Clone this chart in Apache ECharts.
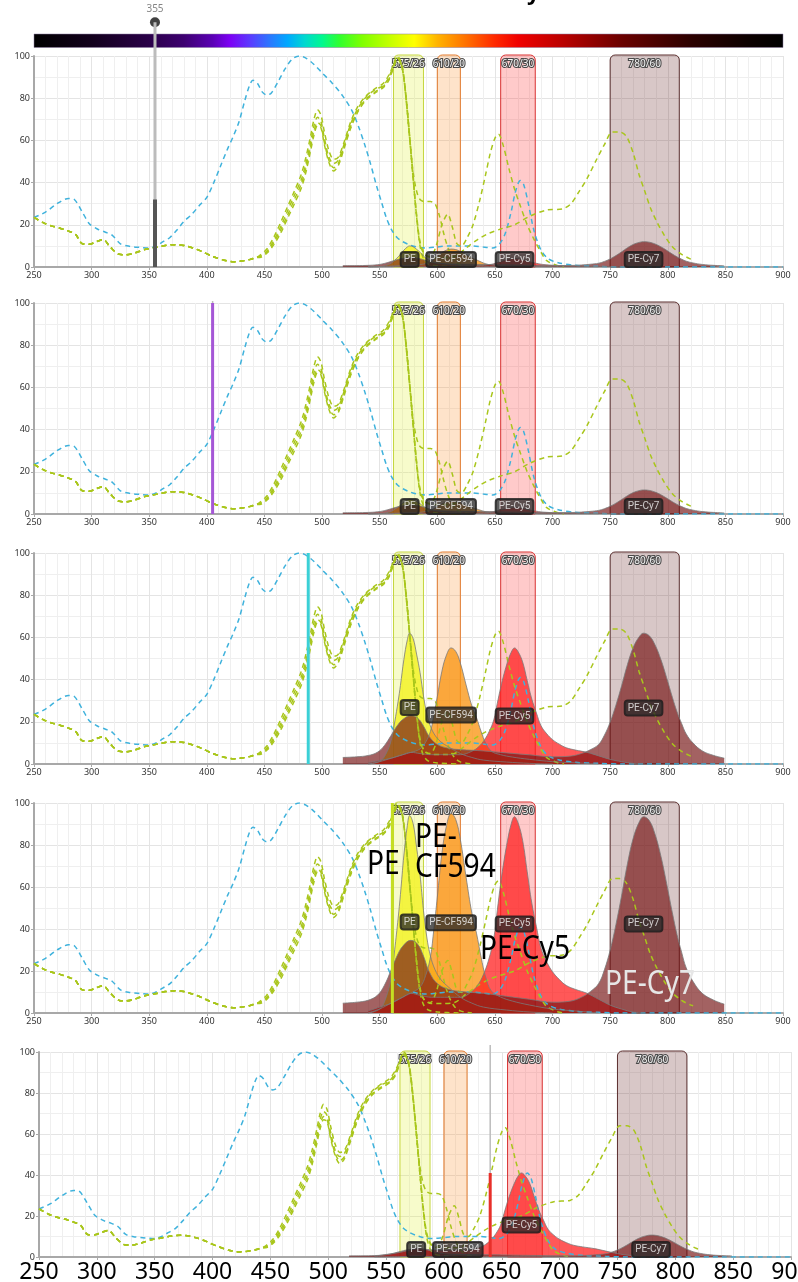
<!DOCTYPE html>
<html lang="en">
<head>
<meta charset="UTF-8">
<title>Spectra</title>
<style>html,body{margin:0;padding:0;background:#fff}</style>
</head>
<body>
<div id="main" style="width:798px;height:1282px"></div>
<script src="https://cdn.jsdelivr.net/npm/echarts@6/dist/echarts.min.js"></script>
<script>
// ---- data ----
var dyeNames = ['PE', 'PE-CF594', 'PE-Cy5', 'PE-Cy7'];
var labelNm = [576, 612, 667, 779];

var bandLo = [562, 600, 655, 750];
var bandHi = [588, 620, 685, 810];
var bandNames = ['575/26', '610/20', '670/30', '780/60'];

var laserNm = [355, 405, 488, 561, 640];
var laserPower = [32, 100, 100, 100, 41];
var sliderTop = [116, 101, 100, 100, 103.4];

// peak height of each emission, one entry per panel
var peakPE = [10, 7, 62, 94, 0.5];
var peakCF594 = [8.5, 6, 55, 95, 1];
var peakCy5 = [4, 3, 55, 93.5, 41];
var peakCy7 = [12, 11.4, 62, 93.5, 10.7];

// height of the name boxes, one entry per panel
var labelPE = [3.6, 3.6, 26.8, 43.3, 3.6];
var labelCF594 = [3.6, 3.6, 23.2, 43, 3.6];
var labelCy5 = [3.6, 3.6, 22.7, 42.4, 15.6];
var labelCy7 = [3.6, 3.6, 26.5, 42.4, 3.6];

var blueEx = [[250,23.5],[260,26],[270,30],[280,32.5],[285,32],[292,26],[298,20.5],[305,18],[312,16.5],[318,15],[325,11],[333,9.8],[342,9.3],[350,9],[356,10],[362,12],[368,14],[374,17.5],[380,21.5],[387,25],[394,29.5],[400,33],[406,40],[412,48],[418,56],[423,62],[428,69],[433,79],[437,86],[440,88.5],[444,87],[448,83],[452,81.5],[456,82.5],[462,88],[468,94],[474,98.5],[480,100],[486,99],[493,96],[500,92],[509,87],[518,81],[526,74],[532,66],[537,58],[542,49],[547,39],[552,30],[556,23],[560,18],[565,14],[570,12],[576,10.5],[582,9.5],[590,9],[600,9.5],[610,10],[620,10],[630,10],[640,9.5],[648,9],[654,11],[659,16],[664,26],[668,36],[672,41],[675,39],[679,30],[684,17],[690,8],[696,4],[705,2],[720,0.8],[740,0.3],[760,0],[900,0]];

var exCommon = [[250,23.5],[258,21],[265,19.5],[272,18.5],[280,17],[286,15.5],[292,11],[298,10.8],[304,12],[310,13],[316,9.6],[324,6],[330,5.8],[336,6.4],[342,7.5],[348,8.5],[356,9.3],[364,10.2],[372,10.6],[380,10.2],[388,9],[395,7.5],[405,5],[415,3.2],[423,2.5],[430,2.8],[437,3.5],[443,4.5]];

var exPE = [[446,5.5],[452,8.5],[458,14],[464,21],[470,28.5],[476,36],[482,44],[486,52],[490,62],[493,70],[496,74.5],[499,72],[502,64],[506,55],[510,51],[514,52],[519,59],[525,69],[531,76],[538,81],[546,84.5],[553,87],[558,91],[562,96],[565,100],[567,99],[570,94],[573,80],[576,62],[579,42],[582,24],[585,10],[588,4],[592,1.5],[600,0.5],[620,0]];
var exCF594 = [[446,5],[452,7.5],[458,12.5],[464,19],[470,26.5],[476,34],[482,41.5],[486,49],[490,59],[493,67],[496,71],[499,69],[502,61],[506,52],[510,49],[514,50.5],[519,58],[525,68],[531,75],[538,80.5],[546,84],[553,86],[558,90],[562,95.5],[565,99],[567,98],[570,93],[573,79],[576,61],[579,45],[582,36],[585,32],[589,31],[594,31],[598,30],[602,24],[606,15],[610,8],[615,3],[620,1],[630,0]];
var exCy5 = [[446,4.8],[452,7],[458,11.5],[464,17.5],[470,24.5],[476,32],[482,39.5],[486,47],[490,57],[493,64.5],[496,68.5],[499,67],[502,59],[506,50.5],[510,47],[514,49],[519,57],[525,67],[531,74],[538,79.5],[546,83],[553,85.5],[558,89],[562,95],[565,98.5],[567,98],[570,93],[573,80],[576,62],[579,43],[582,25],[585,12],[589,6],[594,5],[599,10],[604,20],[609,25],[613,19],[617,11],[621,10],[626,14],[631,20],[637,32],[642,44],[646,54],[650,61],[653,63],[657,58],[662,47],[667,37],[672,29],[678,20],[684,13],[690,7],[695,3],[705,0.5],[710,0]];
var exCy7 = [[446,4.5],[452,6.5],[458,10.5],[464,16],[470,23],[476,30],[482,37.5],[486,45],[490,55],[493,62.5],[496,67],[499,66],[502,58],[506,49.5],[510,45.5],[514,48],[519,56],[525,66],[531,73.5],[538,79],[546,82.5],[553,85],[558,88.5],[562,94.5],[565,98],[567,98],[570,93],[573,79],[576,61],[579,42],[582,24],[585,11],[589,6],[595,4.5],[605,4.5],[615,5],[625,9],[635,13],[645,16],[655,18],[667,20],[680,24],[695,27],[709,27.6],[716,30],[723,35.7],[730,42],[738,50.7],[745,58],[752,64],[758,64],[764,62],[770,54],[775,44],[780,36],[785,28],[790,22],[797,15],[804,9.6],[812,6],[819,4],[822,3.5]];

// emission shapes, peak = 100
var emPE = [[540,0],[550,2],[555,7],[560,18],[563,32],[566,48],[568,60],[571,80],[574,95],[576,100],[579,96],[582,84],[585,70],[588,52],[591,38],[594,29],[598,22],[603,17],[610,13],[620,8],[630,5],[640,3],[660,1.5],[680,0.5],[700,0]];
var emCF594 = [[540,0],[550,2],[560,5],[570,8],[577,10],[585,13],[590,19],[594,28],[597,42],[600,58],[604,80],[608,94],[612,100],[616,97],[620,87],[625,68],[630,50],[634,40],[638,28],[642,18],[647,11],[655,8],[665,6],[680,4],[700,2],[720,1],[740,0]];
var emCy5 = [[540,1],[550,3],[560,5],[570,8],[577,10],[585,9],[595,8],[610,8],[620,8],[630,11],[636,15],[641,21],[645,28],[649,38],[652,52],[655,66],[658,78],[661,88],[664,96],[667,100],[670,97],[674,88],[678,72],[682,56],[686,44],[690,33],[695,26],[700,21],[706,17],[712,14],[720,12],[730,10],[740,7],[750,4],[760,2],[770,0.5],[780,0]];
var emCy7 = [[518,5],[530,5.5],[540,6.5],[548,9],[554,14],[560,22],[565,29],[570,34],[577,37],[583,35],[588,29],[593,21],[600,15],[610,12],[620,11],[640,10],[660,8.5],[680,7],[700,5.5],[715,6],[725,8],[733,11],[740,15],[745,22],[750,32],[755,45],[760,60],[765,76],[770,89],[775,97],[779,100],[784,98],[789,91],[794,80],[799,66],[804,51],[808,40],[812,31],[816,23],[822,16],[830,10],[840,6.5],[849,4.5]];

// ---- styles ----
var grids = [
    {left: 34, right: 15, top: 56, height: 211, outerBoundsMode: 'none'},
    {left: 34, right: 15, top: 303, height: 211, outerBoundsMode: 'none'},
    {left: 34, right: 15, top: 553, height: 211, outerBoundsMode: 'none'},
    {left: 34, right: 15, top: 803, height: 210, outerBoundsMode: 'none'},
    {left: 39, right: 7, top: 1052, height: 205, outerBoundsMode: 'none'}
];
var emColors = ['rgba(242,242,30,0.8)', 'rgba(250,150,20,0.78)', 'rgba(255,30,30,0.74)', 'rgba(115,16,16,0.66)'];
var bandFill = ['rgba(225,240,70,0.28)', 'rgba(250,150,60,0.27)', 'rgba(255,60,60,0.27)', 'rgba(100,30,30,0.25)'];
var bandStroke = ['#c5d63e', '#e27a2c', '#d83232', '#5b2f2f'];
var laserColor = ['#555555', '#a557d6', '#3bd0d6', '#c5de22', '#e8302a'];
var barStops = [[250,'#000000'],[300,'#12001c'],[350,'#2a0048'],[380,'#3d0070'],[405,'#5a00b4'],[420,'#7c00f4'],[438,'#5a3cff'],[455,'#2a78ff'],[470,'#00a8ff'],[485,'#00d8d0'],[500,'#00f890'],[515,'#30ff30'],[535,'#80ff00'],[560,'#c8ff00'],[580,'#ffff00'],[600,'#ffb400'],[625,'#ff7000'],[650,'#ff2800'],[670,'#f00000'],[710,'#b80000'],[760,'#6a0000'],[820,'#2c0000'],[870,'#0c0000'],[900,'#000000']];

var font = 'Noto Sans';

function scaled(shape, peak) {
    return shape.map(function (p) { return [p[0], p[1] * peak / 100]; });
}

function renderBand(params, api) {
    var k = params.dataIndex;
    var a = api.coord([api.value(0), 100]);
    var b = api.coord([api.value(1), 0]);
    return {
        type: 'group',
        children: [
            {
                type: 'rect',
                shape: {x: a[0], y: a[1] - 1, width: b[0] - a[0], height: b[1] - a[1] + 1, r: [5, 5, 0, 0]},
                style: {fill: bandFill[k], stroke: bandStroke[k], lineWidth: 1}
            },
            {
                type: 'text',
                style: {
                    text: bandNames[k], x: (a[0] + b[0]) / 2, y: a[1] + 8,
                    align: 'center', verticalAlign: 'middle',
                    fill: '#f4f4f4', stroke: '#4a4a4a', lineWidth: 2.2,
                    fontSize: 10, fontFamily: font
                }
            }
        ]
    };
}

var xAxes = [], yAxes = [], series = [];
var peaks = [peakPE, peakCF594, peakCy5, peakCy7];
var labels = [labelPE, labelCF594, labelCy5, labelCy7];
var shapes = [emPE, emCF594, emCy5, emCy7];
var greens = [exPE, exCF594, exCy5, exCy7];

for (var i = 0; i < 5; i++) {
    var last = i === 4;
    xAxes.push({
        type: 'value', gridIndex: i, min: 250, max: 900, interval: 50,
        axisLine: {show: true, lineStyle: {color: '#a8a8a8', width: 2}},
        axisTick: {show: true, length: 3, lineStyle: {color: '#a8a8a8'}},
        axisLabel: last
            ? {fontSize: 23, color: '#000', margin: 4, fontFamily: font}
            : {fontSize: 9, color: '#333', margin: 4, fontFamily: font},
        splitLine: {show: true, lineStyle: {color: '#e4e4e4'}},
        minorTick: {show: false, splitNumber: 5},
        minorSplitLine: {show: true, lineStyle: {color: '#efefef'}}
    });
    yAxes.push({
        type: 'value', gridIndex: i, min: 0, max: 100, interval: 20,
        axisLine: {show: true, lineStyle: {color: '#a8a8a8', width: 2}},
        axisTick: {show: true, length: 3, lineStyle: {color: '#a8a8a8'}},
        axisLabel: {fontSize: 9, color: '#333', margin: 4, fontFamily: font},
        splitLine: {show: true, lineStyle: {color: '#e4e4e4'}},
        minorTick: {show: false, splitNumber: 2},
        minorSplitLine: {show: true, lineStyle: {color: '#efefef'}}
    });

    series.push({
        type: 'line', xAxisIndex: i, yAxisIndex: i, data: blueEx,
        showSymbol: false, smooth: 0.3, silent: true,
        lineStyle: {color: '#3fb2dc', width: 1.5, type: [5, 4]}
    });
    for (var g = 0; g < 4; g++) {
        series.push({
            type: 'line', xAxisIndex: i, yAxisIndex: i, data: exCommon.concat(greens[g]),
            showSymbol: false, smooth: 0.3, silent: true,
            lineStyle: {color: '#a9c61c', width: 1.5, type: [5, 4]}
        });
    }
    for (var k = 0; k < 4; k++) {
        series.push({
            type: 'line', xAxisIndex: i, yAxisIndex: i,
            data: scaled(shapes[k], peaks[k][i]),
            showSymbol: false, smooth: 0.4, silent: true,
            lineStyle: {color: '#7a7a7a', width: 0.8},
            areaStyle: {color: emColors[k], opacity: 1}
        });
    }
    series.push({
        type: 'custom', xAxisIndex: i, yAxisIndex: i, silent: true,
        data: bandLo.map(function (lo, j) { return [lo, bandHi[j]]; }),
        renderItem: renderBand
    });
    series.push({
        type: 'line', xAxisIndex: i, yAxisIndex: i, clip: false, silent: true,
        data: [[laserNm[i], 0], [laserNm[i], sliderTop[i]]], showSymbol: false,
        lineStyle: {color: '#bcbcbc', width: i === 0 ? 3 : 1.5}
    });
    series.push({
        type: 'line', xAxisIndex: i, yAxisIndex: i, silent: true,
        data: [[laserNm[i], 0], [laserNm[i], laserPower[i]]], showSymbol: false,
        lineStyle: {color: laserColor[i], width: i === 0 ? 4 : 3}
    });
    if (i === 0) {
        series.push({
            type: 'scatter', xAxisIndex: 0, yAxisIndex: 0, clip: false, silent: true,
            data: [[laserNm[0], sliderTop[0]]], symbolSize: 10,
            itemStyle: {color: '#111'},
            label: {show: true, position: 'top', distance: 3, formatter: String(laserNm[0]), color: '#666', fontSize: 10, fontFamily: font}
        });
    }
    series.push({
        type: 'scatter', xAxisIndex: i, yAxisIndex: i, silent: true, symbolSize: 1,
        itemStyle: {color: 'rgba(0,0,0,0)'}, z: 5,
        data: dyeNames.map(function (n, j) { return {name: n, value: [labelNm[j], labels[j][i]]}; }),
        label: {
            show: true, position: 'inside', formatter: '{b}',
            color: '#f4f4f4', fontSize: 10, fontFamily: 'Roboto',
            backgroundColor: 'rgba(40,40,40,0.95)', borderColor: '#161616', borderWidth: 1,
            borderRadius: 3, padding: [3, 3, 2, 3]
        }
    });
}

var option = {
    animation: false,
    backgroundColor: '#fff',
    grid: grids,
    xAxis: xAxes,
    yAxis: yAxes,
    series: series,
    graphic: [
        {
            type: 'rect', z: 0, shape: {x: 34, y: 34, width: 749, height: 13.5},
            style: {
                fill: {
                    type: 'linear', x: 0, y: 0, x2: 1, y2: 0,
                    colorStops: barStops.map(function (s) { return {offset: (s[0] - 250) / 650, color: s[1]}; })
                },
                stroke: '#8a7aa0', lineWidth: 0.5
            }
        },
        {type: 'text', x: 527, y: 5, style: {text: 'y', fontSize: 22, fontWeight: 'bold', fontFamily: font, fill: '#000', verticalAlign: 'bottom'}},
        {type: 'text', z: 100, x: 367, y: 865, scaleX: 0.88, style: {text: 'PE', fontSize: 32, fontFamily: font, fill: '#000', verticalAlign: 'middle'}},
        {type: 'text', z: 100, x: 415, y: 838, scaleX: 0.88, style: {text: 'PE-', fontSize: 32, fontFamily: font, fill: '#000', verticalAlign: 'middle'}},
        {type: 'text', z: 100, x: 415, y: 868, scaleX: 0.88, style: {text: 'CF594', fontSize: 32, fontFamily: font, fill: '#000', verticalAlign: 'middle'}},
        {type: 'text', z: 100, x: 480, y: 950, scaleX: 0.88, style: {text: 'PE-Cy5', fontSize: 32, fontFamily: font, fill: '#000', verticalAlign: 'middle'}},
        {type: 'text', z: 100, x: 605, y: 985, scaleX: 0.88, style: {text: 'PE-Cy7', fontSize: 32, fontFamily: font, fill: '#e6e6e6', verticalAlign: 'middle'}}
    ]
};

var chart = echarts.init(document.getElementById('main'));
chart.setOption(option);
</script>
</body>
</html>
